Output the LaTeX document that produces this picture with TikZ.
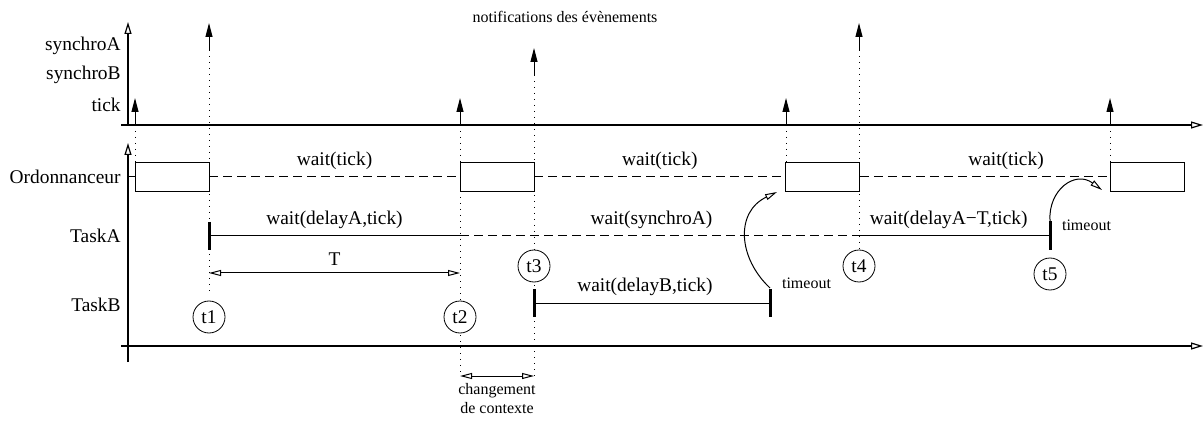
\documentclass[tikz,border=0pt]{standalone}
\usepackage{fontspec}
\setmainfont{Liberation Serif}
\usetikzlibrary{arrows.meta,backgrounds}

\tikzstyle{instant}=[circle,draw,fill=white,minimum size=16pt,inner sep=0pt,font=\fontsize{9.7}{11}\selectfont]
\tikzstyle{slot} = [rectangle,draw,fill=white,minimum width=37pt,minimum height=14.5pt,inner sep=0pt]
\tikzstyle{timeaxis} = [draw,line width=0.6pt,-{Triangle[open,length=6pt,width=3.5pt]}]
\tikzstyle{eventarrow} = [draw,line width=0.5pt,-{Triangle[length=7pt,width=3.5pt]}]
\tikzstyle{guide} = [draw,line width=0.45pt,dash pattern=on 0.5pt off 2.5pt]
\tikzstyle{idle} = [draw,line width=0.5pt,dash pattern=on 4.5pt off 2.5pt]
\tikzstyle{busy} = [draw,line width=0.5pt]
\tikzstyle{wakeup} = [draw,line width=1.5pt]
\tikzstyle{span} = [draw,line width=0.5pt,{Triangle[open,length=6pt,width=3pt]}-{Triangle[open,length=6pt,width=3pt]}]
\tikzstyle{jump} = [draw,line width=0.5pt,-{Triangle[open,length=6pt,width=3pt]}]
\tikzstyle{rowname} = [anchor=east,inner sep=0pt,font=\fontsize{9.7}{11}\selectfont]
\tikzstyle{call} = [font=\fontsize{9.7}{11}\selectfont]
\tikzstyle{note} = [font=\fontsize{8}{9.5}\selectfont]

\begin{document}
\begin{tikzpicture}[x=0.5pt,y=-0.5pt]
     \useasboundingbox (0,0) rectangle (1204,422);
     % axes
     \coordinate (O1) at (128,125);
     \coordinate (O2) at (128,346);
     \draw[timeaxis] (O1) -- (128,22);
     \draw[timeaxis] (121,125) -- (1203,125);
     \draw[timeaxis] (128,362) -- (128,143);
     \draw[timeaxis] (121,346) -- (1203,346);
     % row names
     \foreach \pos/\name/\txt in {{(121,46)/rsa/synchroA}, {(121,75)/rsb/synchroB},
       {(121,105)/rtk/tick}, {(121,177)/rord/Ordonnanceur},
       {(121,236)/rta/TaskA}, {(121,305)/rtb/TaskB}}
     \node[rowname] (\name) at \pos {\txt};
     \node[note] (title) at (565,17) {notifications des évènements};
     % events: tick, synchroA, synchroB
     \coordinate (k1) at (135,125);
     \coordinate (k2) at (460,125);
     \coordinate (k3) at (786,125);
     \coordinate (k4) at (1110,125);
     \coordinate (a1) at (209,50);
     \coordinate (a2) at (859,50);
     \coordinate (b1) at (534,75);
     \foreach \name in {k1,k2,k3,k4,a1,a2,b1}
     \draw[eventarrow] (\name) -- ++(0,-27);
     % scheduler slots and instants
     \foreach \pos/\name in {{(172,177)/s1}, {(497,177)/s2},
       {(822.5,177)/s3}, {(1147,177)/s4}}
     \node[slot] (\name) at \pos {};
     \foreach \pos/\name in {{(209,317)/t1}, {(460,317)/t2},
       {(534,266)/t3}, {(859,266)/t4}, {(1050,274)/t5}}
     \node[instant] (\name) at \pos {\name};
     \coordinate (c1) at (460,376);
     \coordinate (c2) at (534,376);
     % dotted guides behind the slots
     \begin{pgfonlayer}{background}
       \path[guide] (k1) -- (k1 |- s1.north);
       \path[guide] (a1) -- ([yshift=3pt]t1.north);
       \path[guide] (k2) -- (c1);
       \path[guide] (b1) -- (c2);
       \path[guide] (k3) -- (k3 |- s3.north);
       \path[guide] (a2) -- (t4.north);
       \path[guide] (k4) -- (k4 |- s4.north);
     \end{pgfonlayer}
     % Ordonnanceur
     \coordinate (o0) at (128,177);
     \path[idle] (o0) -- (s1.west);
     \path[idle] (s1.east) -- node[above,call] {wait(tick)} (s2.west);
     \path[idle] (s2.east) -- node[above,call] {wait(tick)} (s3.west);
     \path[idle] (s3.east) -- node[above,call,pos=0.585] {wait(tick)} (s4.west);
     % TaskA
     \coordinate (pA1) at (209,236);
     \coordinate (pA2) at (460,236);
     \coordinate (pA3) at (859,236);
     \coordinate (pA4) at (1050,236);
     \path[busy] (pA1) -- node[above,call] {wait(delayA,tick)} (pA2);
     \path[idle] (pA2) -- node[above,call,pos=0.48] {wait(synchroA)} (pA3);
     \path[busy] (pA3) -- node[above,call,pos=0.47] {wait(delayA−T,tick)} (pA4);
     \draw[wakeup] (pA1) ++(0,-14) -- ++(0,28);
     \draw[wakeup] (pA4) ++(0,-15) -- ++(0,29);
     \node[note,anchor=west] (toA) at (1055,225) {timeout};
     % TaskB
     \coordinate (pB1) at (534,303);
     \coordinate (pB2) at (770,303);
     \path[busy] (pB1) -- node[above,call,pos=0.47] {wait(delayB,tick)} (pB2);
     \draw[wakeup] (pB1) ++(0,-14) -- ++(0,28);
     \draw[wakeup] (pB2) ++(0,-14) -- ++(0,28);
     \node[note,anchor=west] (toB) at (775,283) {timeout};
     % timeouts wake the scheduler
     \coordinate (jB) at (770,288);
     \coordinate (gB) at (777,192);
     \coordinate (jA) at (1050,221);
     \coordinate (gA) at (1102,190);
     \draw[jump] (jB) .. controls (738,258) and (735,212) .. (gB);
     \draw[jump] (jA) .. controls (1048,190) and (1075,170) .. (gA);
     % durations
     \coordinate (T1) at (209,273);
     \coordinate (T2) at (460,273);
     \path[span] (T1) -- node[above,call] {T} (T2);
     \path[span] (c1) -- node[below,note,align=center] (ctx) {changement\\de contexte} (c2);
   \end{tikzpicture}
\end{document}
